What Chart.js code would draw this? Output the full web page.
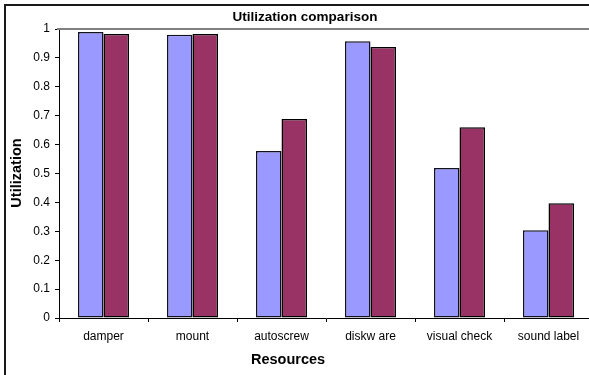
<!DOCTYPE html>
<html>
<head>
<meta charset="utf-8">
<script src="https://cdn.jsdelivr.net/npm/chart.js@4/dist/chart.umd.min.js"></script>
<style>
html,body{margin:0;padding:0;background:#fff;overflow:hidden;width:589px;height:375px;}
canvas{display:block;}
</style>
</head>
<body>
<canvas id="c" width="600" height="375"></canvas>
<script>
const categories = ["damper", "mount", "autoscrew", "diskw are", "visual check", "sound label"];
const seriesA = [0.99, 0.98, 0.578, 0.958, 0.519, 0.304];
const seriesB = [0.983, 0.983, 0.689, 0.938, 0.66, 0.397];
const yTicks = [0, 0.1, 0.2, 0.3, 0.4, 0.5, 0.6, 0.7, 0.8, 0.9, 1];
const chartTitle = "Utilization comparison";
const xTitle = "Resources";
const yTitle = "Utilization";

const FONT = "'Liberation Sans', Arial, sans-serif";

const decor = {
  id: 'decor',
  beforeDraw(chart) {
    const ctx = chart.ctx;
    ctx.save();
    ctx.fillStyle = '#fff';
    ctx.fillRect(0, 0, chart.width, chart.height);
    ctx.strokeStyle = '#1a1a1a';
    ctx.lineWidth = 2;
    ctx.beginPath();
    ctx.moveTo(5, chart.height + 5);
    ctx.lineTo(5, 5);
    ctx.lineTo(chart.width + 5, 5);
    ctx.stroke();
    ctx.restore();
  },
  afterDraw(chart) {
    const ctx = chart.ctx;
    const a = chart.chartArea;
    ctx.save();
    ctx.strokeStyle = '#808080';
    ctx.lineWidth = 2;
    ctx.beginPath();
    ctx.moveTo(a.left - 2, a.top);
    ctx.lineTo(chart.width + 5, a.top);
    ctx.stroke();
    ctx.fillStyle = '#000';
    ctx.textAlign = 'center';
    ctx.textBaseline = 'middle';
    ctx.font = "bold 13.5px " + FONT;
    ctx.fillText(chartTitle, 305, 17);
    ctx.font = "bold 14.5px " + FONT;
    ctx.fillText(xTitle, 288, 360);
    ctx.translate(17, 173);
    ctx.rotate(-Math.PI / 2);
    ctx.fillText(yTitle, 0, 0);
    ctx.restore();
  }
};

new Chart(document.getElementById('c'), {
  type: 'bar',
  data: {
    labels: categories,
    datasets: [
      { label: 'A', data: seriesA, backgroundColor: '#9999FF', borderColor: '#111122', borderWidth: 1.5, borderSkipped: false, categoryPercentage: 0.573, barPercentage: 1.0 },
      { label: 'B', data: seriesB, backgroundColor: '#993366', borderColor: '#000000', borderWidth: 1.5, borderSkipped: false, categoryPercentage: 0.573, barPercentage: 1.0 }
    ]
  },
  options: {
    responsive: false,
    animation: false,
    devicePixelRatio: 1,
    layout: { padding: { left: 0, top: 29, right: 7, bottom: 0 } },
    plugins: { legend: { display: false }, title: { display: false }, tooltip: { enabled: false } },
    scales: {
      x: {
        afterFit(scale) { scale.height = 57; },
        grid: { display: true, offset: true, drawOnChartArea: false, drawTicks: true, tickLength: 4, color: '#000', lineWidth: 1 },
        border: { display: true, color: '#000', width: 1 },
        ticks: { color: '#000', font: { family: FONT, size: 12 }, padding: 7, maxRotation: 0, autoSkip: false }
      },
      y: {
        min: 0, max: 1,
        afterFit(scale) { scale.width = 59; },
        afterBuildTicks(scale) { scale.ticks = yTicks.map(v => ({ value: v })); },
        grid: { display: true, drawOnChartArea: false, drawTicks: true, tickLength: 4, color: '#000', lineWidth: 1 },
        border: { display: true, color: '#000', width: 1 },
        ticks: { color: '#000', font: { family: FONT, size: 12 }, padding: 5, callback: v => String(Math.round(v * 10) / 10) }
      }
    }
  },
  plugins: [decor]
});
</script>
</body>
</html>
